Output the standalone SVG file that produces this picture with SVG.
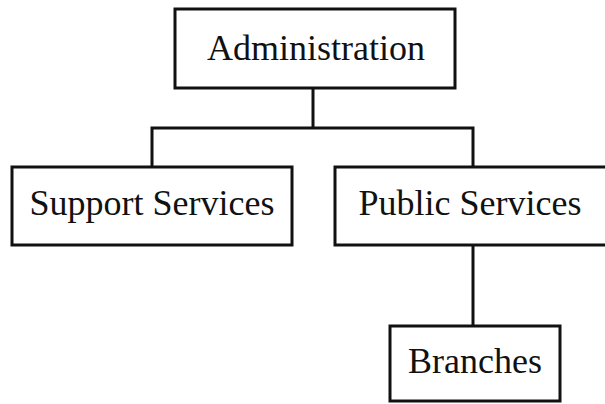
<svg xmlns="http://www.w3.org/2000/svg" width="605" height="404" viewBox="0 0 605 404">
<style>
.box{fill:#fff;stroke:#111;stroke-width:3}
.lbl{font-family:"Liberation Serif","Times New Roman",serif;font-size:36px;fill:#111;text-anchor:middle}
.conn{fill:none;stroke:#111;stroke-width:3}
</style>
<rect width="605" height="404" fill="#fff"/>
<g id="connectors" class="conn">
<path d="M313 88 V128"/>
<path d="M152 167 V128 H473 V167"/>
<path d="M473 245 V326"/>
</g>
<g id="administration">
<rect class="box" x="175" y="9" width="280" height="79"/>
<text class="lbl" x="316" y="60">Administration</text>
</g>
<g id="support-services">
<rect class="box" x="12" y="167" width="280" height="78"/>
<text class="lbl" x="152" y="215">Support Services</text>
</g>
<g id="public-services">
<rect class="box" x="335" y="167" width="285" height="78"/>
<text class="lbl" x="470" y="215">Public Services</text>
</g>
<g id="branches">
<rect class="box" x="390" y="326" width="170" height="75"/>
<text class="lbl" x="475" y="373">Branches</text>
</g>
</svg>
